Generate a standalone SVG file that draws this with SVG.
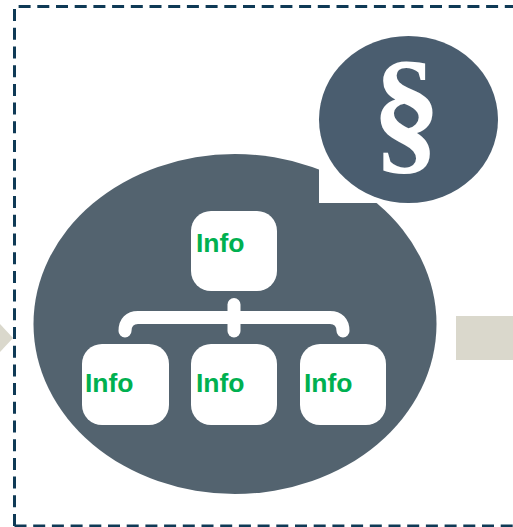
<svg xmlns="http://www.w3.org/2000/svg" width="513" height="527" viewBox="0 0 513 527">
<style>
.box{fill:#fff}
.lbl{font-family:"Liberation Sans",Arial,sans-serif;font-weight:bold;font-size:26.500px;fill:#00B050}
.conn{fill:none;stroke:#fff;stroke-width:13;stroke-linecap:round}
</style>
<rect width="513" height="527" fill="#fff"/>
<g id="frame"><path d="M14.500 526V6.500H520M14.500 526H520" fill="none" stroke="#0F3A56" stroke-width="3" stroke-dasharray="12 6.700"/></g>
<g id="arrow-in"><polygon points="0,324 13,338 0,352" fill="#DAD8CC"/></g>
<g id="arrow-out"><rect x="456" y="316" width="57" height="44" fill="#DAD8CC"/></g>
<g id="org-circle"><ellipse cx="235" cy="324" rx="201.500" ry="170" fill="#53636F"/></g>
<g id="law-circle">
<rect x="319" y="168" width="58" height="35" fill="#fff"/>
<ellipse cx="408.500" cy="119.500" rx="89.500" ry="83.500" fill="#4A5D6F"/>
<text x="406.500" y="157" text-anchor="middle" font-family="'Liberation Serif','Times New Roman',serif" font-weight="bold" font-size="139" fill="#fff">§</text>
</g>
<g id="connectors">
<path class="conn" d="M234 304.500V331"/>
<path class="conn" d="M125 331C125 322 130 317.500 138 317.500H330C338 317.500 343 322 343 331"/>
</g>
<g id="node-top"><rect class="box" x="191" y="211" width="86" height="80" rx="20"/><text class="lbl" x="196" y="252">Info</text></g>
<g id="node-left"><rect class="box" x="82" y="344" width="87" height="81" rx="20"/><text class="lbl" x="85" y="392">Info</text></g>
<g id="node-mid"><rect class="box" x="191" y="344" width="86" height="81" rx="20"/><text class="lbl" x="196" y="392">Info</text></g>
<g id="node-right"><rect class="box" x="300" y="344" width="86" height="81" rx="20"/><text class="lbl" x="304" y="392">Info</text></g>
</svg>
